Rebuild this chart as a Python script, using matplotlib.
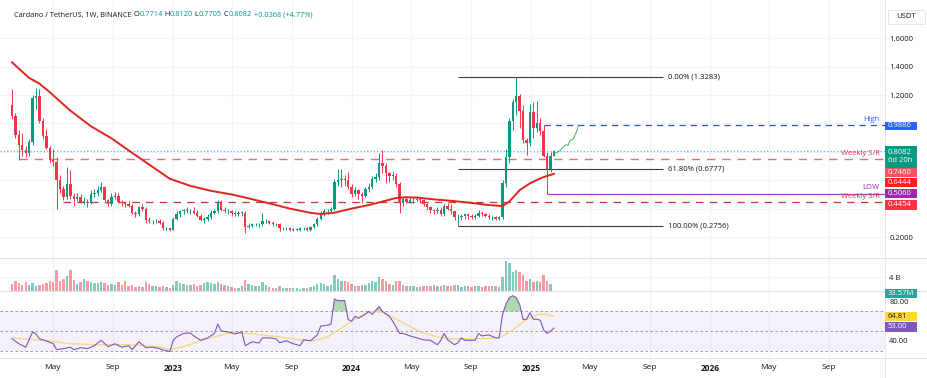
import datetime as dt
import numpy as np
import matplotlib
matplotlib.use("Agg")
from matplotlib import pyplot as plt
from matplotlib import transforms
from matplotlib.patches import Rectangle
from matplotlib.lines import Line2D

plt.rcParams["font.family"] = ["Open Sans", "DejaVu Sans"]

W, H = 928, 378
UP, DOWN = "#089981", "#f23645"
TXT = "#131722"
GRID = "#f0f3fa"
SEP = "#e0e3eb"

start = dt.date(2022, 2, 7)  # monday of the first weekly candle

# ---- weekly candles (ADA/USDT) ----
first_open = 1.13
closes = [1.05, 0.92, 0.85, 0.81, 0.79, 0.87, 1.18, 1.19, 1.02, 0.91,
          0.83, 0.74, 0.73, 0.60, 0.54, 0.48, 0.57, 0.49, 0.47, 0.48,
          0.45, 0.45, 0.44, 0.50, 0.51, 0.53, 0.55, 0.46, 0.43, 0.48,
          0.49, 0.45, 0.44, 0.43, 0.42, 0.37, 0.36, 0.41, 0.40, 0.32,
          0.31, 0.31, 0.31, 0.30, 0.26, 0.26, 0.25, 0.33, 0.36, 0.38,
          0.39, 0.38, 0.38, 0.37, 0.35, 0.32, 0.33, 0.34, 0.37, 0.38,
          0.45, 0.39, 0.38, 0.38, 0.37, 0.36, 0.37, 0.37, 0.27, 0.28,
          0.29, 0.29, 0.29, 0.31, 0.31, 0.30, 0.29, 0.29, 0.26, 0.26,
          0.26, 0.25, 0.25, 0.25, 0.26, 0.26, 0.25, 0.27, 0.29, 0.33,
          0.37, 0.38, 0.38, 0.40, 0.59, 0.60, 0.61, 0.60, 0.555, 0.50,
          0.53, 0.50, 0.49, 0.54, 0.55, 0.61, 0.62, 0.72, 0.70, 0.65,
          0.63, 0.63, 0.57, 0.44, 0.47, 0.45, 0.46, 0.46, 0.47, 0.46,
          0.43, 0.41, 0.39, 0.38, 0.39, 0.36, 0.42, 0.40, 0.38, 0.34,
          0.34, 0.35, 0.36, 0.35, 0.34, 0.35, 0.37, 0.36, 0.35, 0.34,
          0.34, 0.33, 0.34, 0.58, 0.76, 1.02, 1.15, 1.19, 1.09, 0.88,
          0.86, 1.08, 0.97, 1.00, 0.95, 0.77, 0.68, 0.7714, 0.8082]
highs = [1.24, 1.07, 0.95, 0.93, 0.84, 0.89, 1.20, 1.25, 1.24, 1.04,
         0.96, 0.84, 0.82, 0.76, 0.64, 0.56, 0.69, 0.67, 0.51, 0.51,
         0.50, 0.48, 0.47, 0.53, 0.54, 0.56, 0.59, 0.56, 0.47, 0.51,
         0.52, 0.51, 0.46, 0.45, 0.45, 0.43, 0.38, 0.42, 0.43, 0.41,
         0.34, 0.32, 0.33, 0.33, 0.31, 0.27, 0.26, 0.34, 0.38, 0.39,
         0.40, 0.41, 0.40, 0.41, 0.39, 0.36, 0.34, 0.36, 0.39, 0.40,
         0.46, 0.46, 0.41, 0.40, 0.39, 0.38, 0.38, 0.38, 0.38, 0.30,
         0.30, 0.30, 0.30, 0.37, 0.33, 0.32, 0.31, 0.30, 0.30, 0.27,
         0.27, 0.27, 0.26, 0.26, 0.27, 0.27, 0.27, 0.28, 0.30, 0.34,
         0.38, 0.40, 0.40, 0.41, 0.61, 0.68, 0.68, 0.64, 0.66, 0.57,
         0.55, 0.54, 0.52, 0.55, 0.58, 0.63, 0.65, 0.79, 0.81, 0.72,
         0.66, 0.66, 0.65, 0.59, 0.49, 0.48, 0.48, 0.48, 0.49, 0.48,
         0.47, 0.44, 0.42, 0.40, 0.41, 0.41, 0.43, 0.44, 0.43, 0.38,
         0.36, 0.36, 0.37, 0.37, 0.36, 0.36, 0.39, 0.38, 0.37, 0.36,
         0.35, 0.35, 0.35, 0.60, 0.82, 1.04, 1.17, 1.3283, 1.21, 1.13,
         0.90, 1.14, 1.15, 1.16, 1.04, 0.9886, 0.80, 0.80, 0.8120]
lows = [1.03, 0.90, 0.74, 0.77, 0.76, 0.77, 0.85, 1.10, 1.00, 0.89,
        0.82, 0.72, 0.70, 0.40, 0.51, 0.46, 0.47, 0.47, 0.42, 0.45,
        0.44, 0.43, 0.41, 0.43, 0.48, 0.49, 0.52, 0.45, 0.42, 0.42,
        0.47, 0.44, 0.42, 0.41, 0.41, 0.36, 0.34, 0.35, 0.38, 0.30,
        0.30, 0.29, 0.30, 0.29, 0.25, 0.25, 0.24, 0.25, 0.32, 0.34,
        0.36, 0.37, 0.36, 0.36, 0.34, 0.31, 0.30, 0.31, 0.33, 0.36,
        0.37, 0.38, 0.37, 0.36, 0.35, 0.35, 0.35, 0.35, 0.23, 0.26,
        0.27, 0.28, 0.27, 0.28, 0.30, 0.29, 0.28, 0.28, 0.24, 0.25,
        0.25, 0.24, 0.24, 0.24, 0.24, 0.25, 0.24, 0.24, 0.26, 0.28,
        0.32, 0.35, 0.36, 0.37, 0.39, 0.56, 0.55, 0.56, 0.54, 0.48,
        0.49, 0.47, 0.44, 0.48, 0.52, 0.54, 0.59, 0.60, 0.65, 0.58,
        0.59, 0.60, 0.55, 0.37, 0.42, 0.44, 0.44, 0.44, 0.45, 0.44,
        0.42, 0.39, 0.37, 0.36, 0.37, 0.35, 0.35, 0.39, 0.36, 0.32,
        0.28, 0.32, 0.33, 0.33, 0.33, 0.33, 0.34, 0.35, 0.34, 0.33,
        0.32, 0.32, 0.32, 0.33, 0.55, 0.72, 0.95, 1.06, 0.97, 0.86,
        0.78, 0.84, 0.90, 0.94, 0.92, 0.76, 0.506, 0.66, 0.7705]
volumes_b = [2.0, 2.8, 2.2, 1.6, 2.5, 1.8, 2.2, 1.5, 1.6, 2.0,
             2.2, 3.0, 2.5, 6.0, 2.8, 3.5, 4.2, 6.0, 3.2, 2.0,
             2.5, 3.5, 2.8, 2.5, 2.3, 2.3, 2.5, 2.2, 1.8, 2.0,
             1.8, 2.5, 1.6, 3.0, 1.5, 1.8, 1.2, 1.4, 1.2, 2.5,
             2.0, 1.4, 1.3, 1.2, 1.5, 1.1, 1.0, 1.6, 2.8, 2.2,
             2.0, 1.8, 1.6, 2.0, 1.5, 1.6, 2.2, 2.5, 2.3, 2.0,
             2.5, 2.0, 1.8, 1.5, 1.2, 1.0, 1.0, 1.4, 3.2, 2.0,
             1.8, 1.5, 1.3, 2.5, 1.6, 1.2, 1.0, 0.9, 1.3, 1.0,
             0.9, 0.8, 0.8, 0.8, 0.7, 0.8, 0.9, 1.2, 1.4, 2.0,
             2.3, 2.0, 1.5, 1.6, 4.5, 3.5, 2.8, 3.0, 2.5, 2.0,
             1.4, 1.5, 1.6, 1.8, 2.2, 2.8, 2.6, 4.0, 3.5, 2.8,
             2.0, 1.8, 2.8, 3.0, 1.8, 1.5, 1.3, 1.3, 1.2, 1.2,
             1.3, 1.4, 1.5, 1.6, 1.4, 1.3, 1.6, 1.5, 1.3, 1.8,
             1.6, 1.2, 1.4, 1.3, 1.2, 1.3, 1.5, 1.2, 1.3, 1.4,
             1.5, 1.3, 1.2, 4.0, 8.5, 8.0, 5.5, 6.0, 5.5, 4.5,
             2.8, 3.5, 2.5, 3.0, 2.5, 4.5, 3.0, 2.0, 0.034]

# 50-week moving average, read at sample weeks
ma_week = [0, 5, 8, 11, 17, 23, 29, 34, 40, 46, 52, 58, 64, 69, 75, 81, 87, 90,
           94, 99, 104, 109, 112, 115, 118, 123, 128, 134, 139, 143, 145, 148,
           151, 154, 156, 158]
ma_val = [1.43, 1.32, 1.28, 1.22, 1.09, 0.98, 0.895, 0.81, 0.71, 0.61, 0.56,
          0.525, 0.50, 0.472, 0.437, 0.40, 0.37, 0.362, 0.371, 0.40, 0.425,
          0.456, 0.475, 0.48, 0.478, 0.465, 0.455, 0.44, 0.425, 0.418, 0.45,
          0.53, 0.578, 0.613, 0.63, 0.6444]

# RSI(14) and its moving average
rsi_week = [0, 2, 4, 6, 7, 8, 10, 12, 13, 15, 17, 18, 20, 22, 24, 26, 28, 30,
            32, 34, 35, 37, 39, 41, 43, 44, 46, 47, 48, 50, 52, 53, 55, 57, 59,
            60, 61, 63, 65, 67, 68, 70, 72, 73, 75, 77, 78, 80, 82, 84, 85, 87,
            89, 90, 92, 93, 94, 95, 97, 98, 99, 100, 101, 103, 104, 105, 107,
            108, 110, 111, 113, 114, 116, 118, 120, 122, 124, 125, 126, 127,
            129, 130, 131, 132, 135, 136, 137, 139, 141, 142, 143, 144, 145,
            146, 147, 148, 149, 150, 151, 152, 153, 154, 155, 156, 157, 158]
rsi_val = [42, 37, 33.5, 49, 47, 42, 40, 37, 31, 32, 33.5, 31, 33, 32, 35,
           40.5, 34, 37, 33.5, 35, 31, 39, 33, 33.5, 32, 30.7, 29, 40.5, 44,
           47.5, 48, 45, 40.5, 43, 47.5, 57, 50, 49, 47, 49, 35, 39, 37.7, 43,
           43, 42, 38, 40, 37, 35, 41, 40, 46, 55, 56, 57, 82.6, 81, 81, 61.6,
           60, 65, 63, 67, 70, 67, 75, 70, 65, 60, 47.5, 47.5, 45, 43, 41,
           40.5, 36, 40.5, 47.5, 41, 36, 38, 43, 40.5, 40.5, 47.5, 45, 46, 43,
           43, 67, 77.4, 84, 86, 84, 77, 61.6, 62, 68.6, 62, 62, 61, 51, 47.5,
           50, 53.0]
rsi_ma_week = [0, 10, 17, 25, 35, 43, 46, 50, 55, 60, 64, 70, 78, 84, 88, 92,
               96, 100, 103, 105, 108, 112, 119, 124, 128, 135, 142, 146, 150,
               153, 155, 157, 158]
rsi_ma_val = [43, 40, 37, 36, 36, 34, 31, 34, 40, 45, 48.5, 47, 44, 41, 40, 44,
              53, 62, 68, 70, 69, 62, 49, 44, 42, 42, 43, 51, 62, 66.5, 67.5,
              66, 64.81]

# hand-drawn projection path after the last candle
path_week = [158.3, 159.2, 159.8, 160.6, 161.5, 162.1, 162.7, 163.6, 164.7, 165.1]
path_val = [0.79, 0.80, 0.81, 0.83, 0.85, 0.845, 0.88, 0.89, 0.95, 0.9886]

fib_levels = [1.3283, 0.6777, 0.2756]
fib_names = ["0.00%", "61.80%", "100.00%"]
high_level, low_level = 0.9886, 0.5060
sr_upper, sr_lower = 0.7460, 0.4454
last_price, ma_last = 0.8082, 0.6444
rsi_last, rsi_ma_last = 53.00, 64.81
price_ticks = [0.2, 0.4, 0.6, 0.8, 1.0, 1.2, 1.4, 1.6]
hidden_ticks = [0.4, 0.6, 0.8, 1.0]   # covered by the coloured tags

xt_dates = [dt.date(2022, 5, 1), dt.date(2022, 9, 1), dt.date(2023, 1, 1),
            dt.date(2023, 5, 1), dt.date(2023, 9, 1), dt.date(2024, 1, 1),
            dt.date(2024, 5, 1), dt.date(2024, 9, 1), dt.date(2025, 1, 1),
            dt.date(2025, 5, 1), dt.date(2025, 9, 1), dt.date(2026, 1, 1),
            dt.date(2026, 5, 1), dt.date(2026, 9, 1)]
xt_labels = ["May", "Sep", "2023", "May", "Sep", "2024", "May", "Sep", "2025",
             "May", "Sep", "2026", "May", "Sep"]


def wk(d):
    return (d - start).days / 7.0


def rect(y0, y1, x0=0, x1=885):
    return [x0 / W, 1 - y1 / H, (x1 - x0) / W, (y1 - y0) / H]


def tag(y0, y1, text, bg, fg="white", x0=885, x1=917, **kw):
    fig.patches.append(Rectangle((x0 / W, 1 - y1 / H), (x1 - x0) / W, (y1 - y0) / H,
                                 transform=fig.transFigure, facecolor=bg,
                                 edgecolor="none", zorder=5))
    fig.text((x0 + 3) / W, 1 - (y0 + y1) / 2 / H, text, color=fg, fontsize=5.5,
             va="center", ha="left", zorder=6, **kw)


fig = plt.figure(figsize=(W / 100, H / 100), dpi=100)
ax = fig.add_axes(rect(0, 258))
axv = fig.add_axes(rect(258, 291))
axr = fig.add_axes(rect(291, 358))

xticks = [wk(d) for d in xt_dates]
for a in (ax, axv, axr):
    for s in a.spines.values():
        s.set_visible(False)
    a.set_xlim(-3.5, 254.5)
    a.set_xticks(xticks)
    a.yaxis.tick_right()
    a.tick_params(length=0, labelsize=5.5, labelcolor=TXT, pad=3)
    a.tick_params(axis="x", labelbottom=False)
    a.grid(True, color=GRID, lw=0.8)
    a.set_axisbelow(True)

# ---- price pane ----
n = len(closes)
idx = np.arange(n)
c = np.array(closes)
o = np.array([first_open] + closes[:-1])
up = c >= o
col = np.where(up, UP, DOWN)
ax.vlines(idx, lows, highs, colors=col, lw=0.7, zorder=3)
ax.bar(idx, np.maximum(np.abs(c - o), 0.004), bottom=np.minimum(c, o),
       width=0.7, color=col, lw=0, zorder=3)

ax.axhline(last_price, color="#5fa8d3", ls=(0, (1, 2)), lw=0.8, zorder=2)
ax.hlines(sr_upper, 2, 254.5, color="#ef6b78", ls=(0, (6, 5)), lw=1.0, zorder=2)
ax.hlines(sr_lower, 15, 254.5, color="#c0393f", ls=(0, (6, 5)), lw=0.9, zorder=2)
ax.hlines(high_level, 155, 254.5, color="#2a52be", ls=(0, (5, 4)), lw=0.9, zorder=2)
ax.hlines(low_level, 156, 254.5, color="#b03bd4", lw=0.9, zorder=2)
ax.hlines(fib_levels, 130, 189.8, color="#3c3c3c", lw=0.8, zorder=2)
for lv, nm in zip(fib_levels, fib_names):
    ax.text(191.3, lv, f"{nm} ({lv:.4f})", fontsize=5.5, color=TXT, va="center")

ax.plot(ma_week, ma_val, color="#e0251b", lw=1.4, zorder=4)
ax.plot(path_week, path_val, color="#4caf50", lw=0.7, zorder=4)

ax.set_ylim(0.2 - 21 / 142, 0.2 + 237 / 142)
ax.set_yticks(price_ticks)
ax.set_yticklabels(["" if v in hidden_ticks else f"{v:.4f}" for v in price_ticks])

blend = transforms.blended_transform_factory(ax.transAxes, ax.transData)
for lv, txt, colr in [(high_level, "High", "#2962ff"),
                      (sr_upper, "Weekly S/R", "#e03448"),
                      (low_level, "LOW", "#9c27b0"),
                      (sr_lower, "Weekly S/R", "#e03448")]:
    ax.annotate(txt, xy=(0.994, lv), xycoords=blend, xytext=(0, 1.5),
                textcoords="offset points", ha="right", va="bottom",
                fontsize=5.5, color=colr, annotation_clip=False)

# title line
parts = [("O", TXT), ("0.7714", UP), (" H", TXT), ("0.8120", UP), (" L", TXT),
         ("0.7705", UP), (" C", TXT), ("0.8082", UP), (" +0.0368 (+4.77%)", UP)]
t = ax.text(14 / 885, 1 - 15 / 258, "Cardano / TetherUS, 1W, BINANCE ",
            transform=ax.transAxes, fontsize=5.3, color=TXT, va="center")
for s, colr in parts:
    t = ax.annotate(s, xy=(1, 0.5), xycoords=t, va="center", ha="left",
                    fontsize=5.3, color=colr)

# ---- volume pane ----
axv.bar(idx, volumes_b, width=0.7, color=col, alpha=0.5, lw=0)
axv.set_ylim(0, 9.5)
axv.set_yticks([4])
axv.set_yticklabels(["4 B"])

# ---- RSI pane ----
axr.axhspan(30, 70, color="#7e57c2", alpha=0.08, lw=0)
for lv in (70, 50, 30):
    axr.axhline(lv, color="#8c8fa0", ls=(0, (3, 3)), lw=0.6)
rw = np.array(rsi_week)
rv = np.array(rsi_val)
axr.fill_between(rw, rv, 70, where=rv > 70, interpolate=True, color="#4caf50",
                 alpha=0.45, lw=0)
axr.plot(rsi_ma_week, rsi_ma_val, color="#f5d77a", lw=0.9)
axr.plot(rw, rv, color="#7e57c2", lw=0.8)
axr.set_ylim(22.45, 90.8)
axr.set_yticks([40, 80])
axr.set_yticklabels(["40.00", "80.00"])
axr.grid(False, axis="y")
axr.tick_params(axis="x", labelbottom=True, labelsize=6, pad=4)
axr.set_xticklabels(xt_labels)
for lab in axr.get_xticklabels():
    if lab.get_text().isdigit():
        lab.set_fontweight("bold")

# ---- separators and price-scale tags ----
for y in (258, 291, 358):
    fig.add_artist(Line2D([0, 1], [1 - y / H] * 2, transform=fig.transFigure,
                          color=SEP, lw=0.8))
fig.add_artist(Line2D([885 / W] * 2, [0, 1], transform=fig.transFigure,
                      color=SEP, lw=0.6))

tag(122, 130, f"{high_level:.4f}", "#2962ff")
tag(146, 168, f"{last_price:.4f}\n6d 20h", UP, linespacing=1.2)
tag(168, 177, f"{sr_upper:.4f}", "#f7525f")
tag(178, 187, f"{ma_last:.4f}", "#ff1e1e")
tag(189, 198, f"{low_level:.4f}", "#9c27b0")
tag(200, 210, f"{sr_lower:.4f}", "#f23645")
tag(289, 298, "33.57M", "#26a69a")
tag(312, 321, f"{rsi_ma_last:.2f}", "#fdd835", fg=TXT)
tag(322, 332, f"{rsi_last:.2f}", "#7e57c2")

fig.patches.append(Rectangle((888 / W, 1 - 24 / H), 37 / W, 14 / H,
                             transform=fig.transFigure, facecolor="white",
                             edgecolor=SEP, lw=0.6))
fig.text(906 / W, 1 - 17 / H, "USDT", fontsize=5.5, color=TXT, ha="center", va="center")

fig.savefig("out.png", dpi=100)
